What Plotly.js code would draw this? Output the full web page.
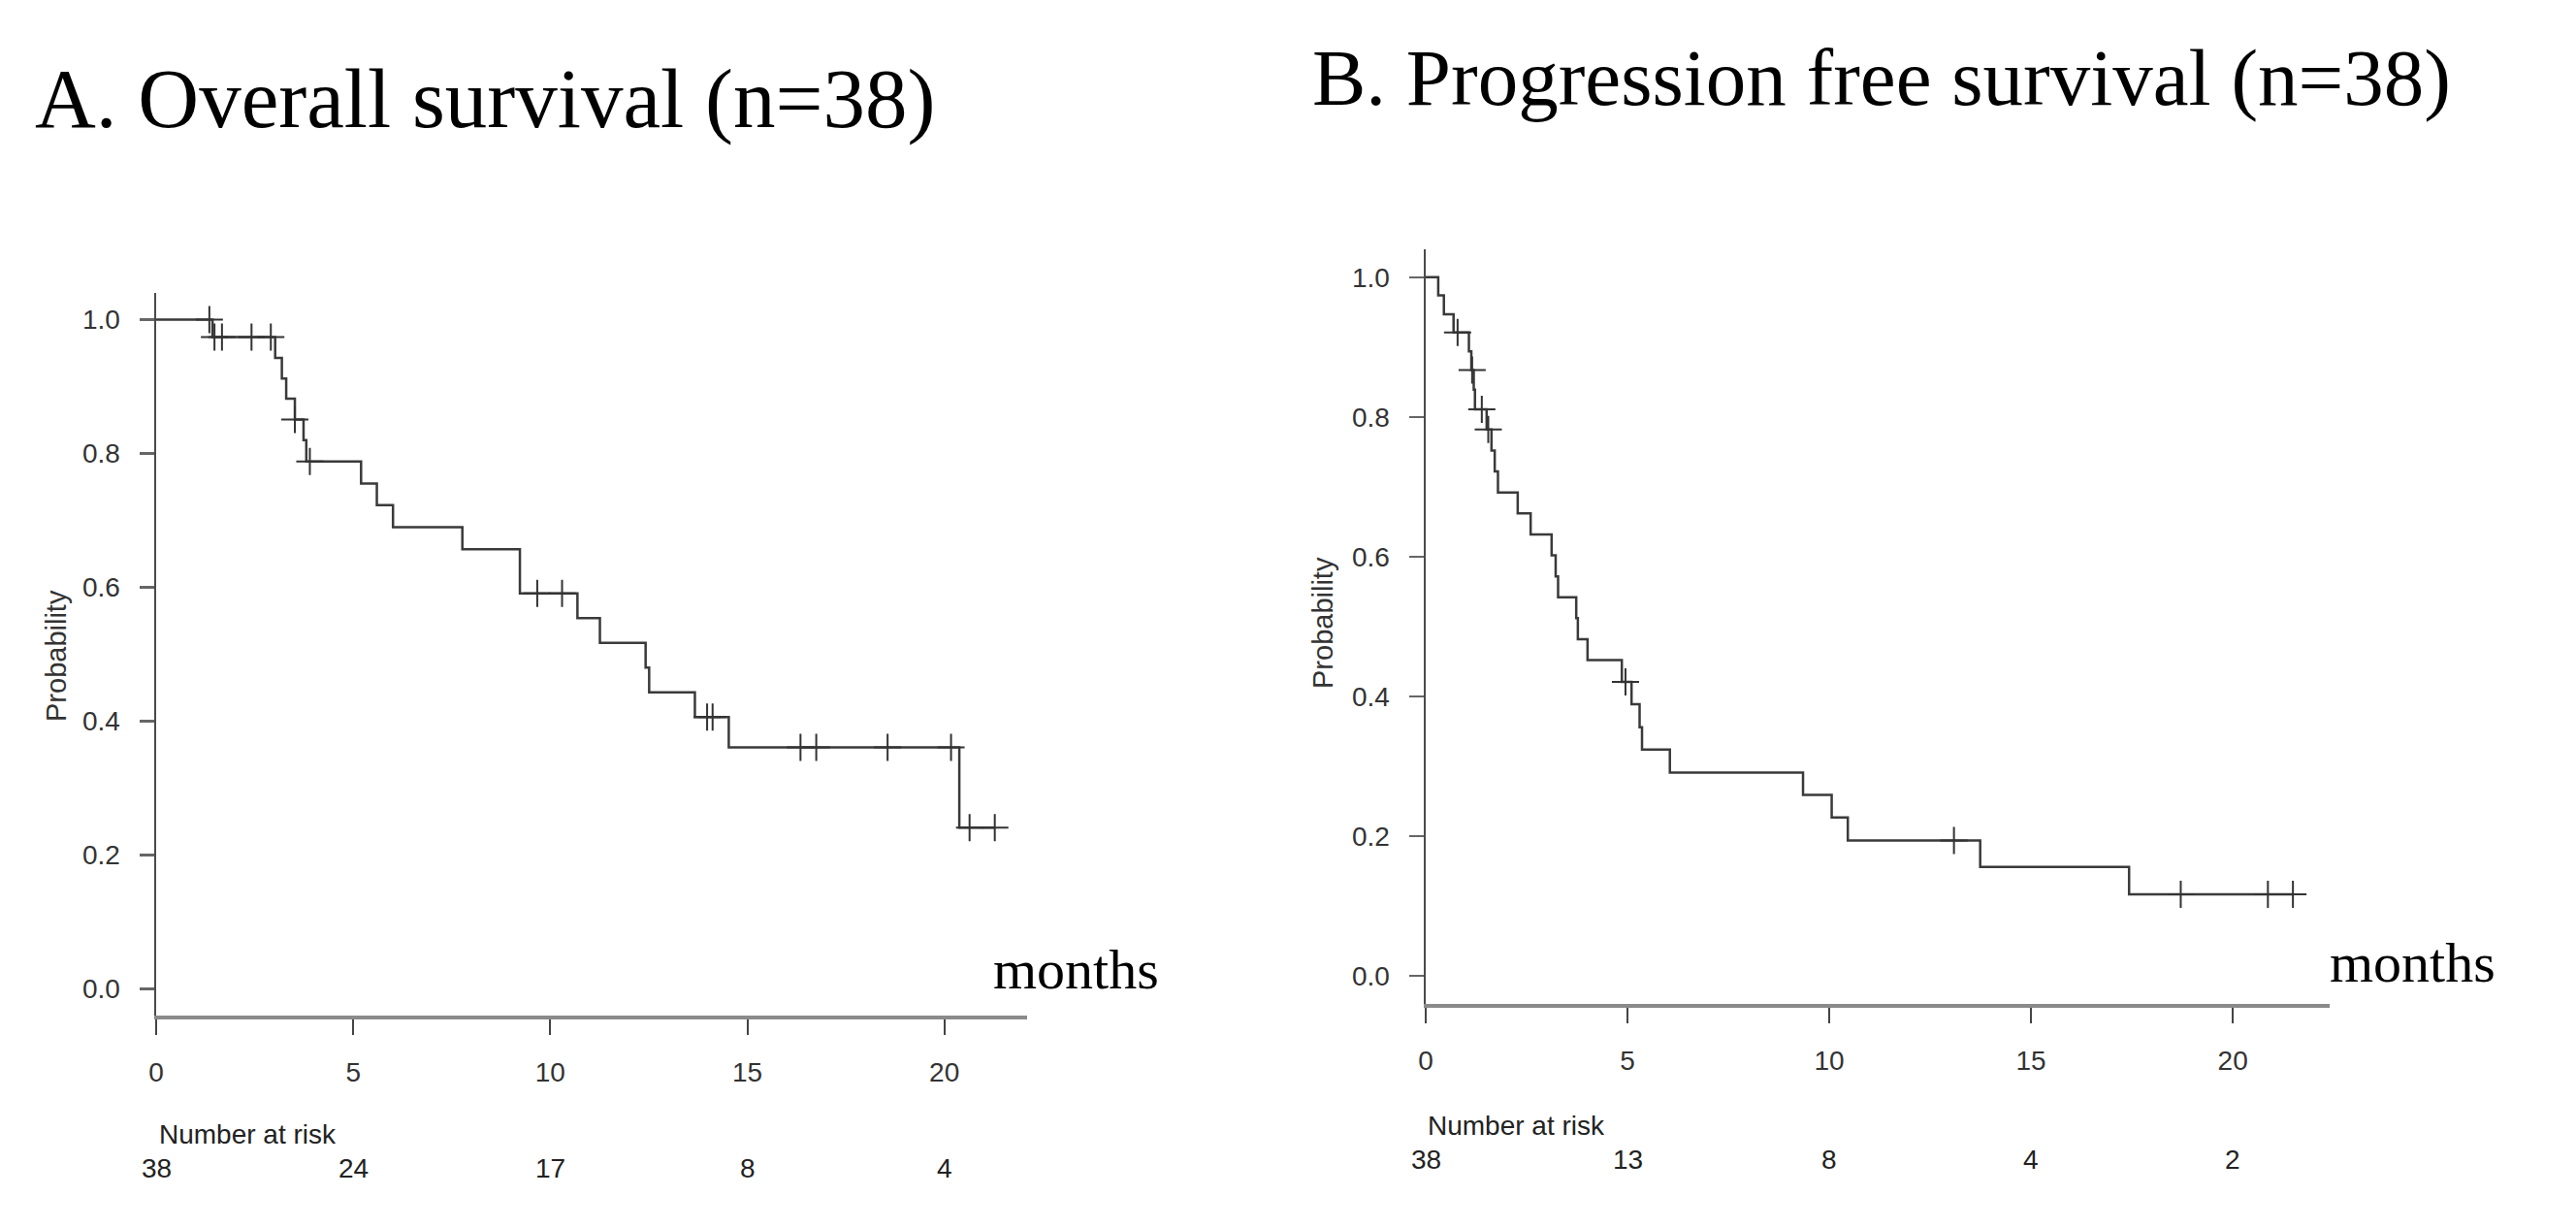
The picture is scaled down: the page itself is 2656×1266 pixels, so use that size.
<!DOCTYPE html>
<html>
<head>
<meta charset="utf-8">
<script src="https://cdn.plot.ly/plotly-3.0.1.min.js"></script>
<style>html,body{margin:0;padding:0;background:#fff;}#chart{width:2656px;height:1266px;}</style>
</head>
<body>
<div id="chart"></div>
<script>
// ---------- Data ----------
// Panel A: Overall survival (Kaplan-Meier step points: time in months, survival probability)
const osEventTime = [0, 1.43, 3.02, 3.19, 3.30, 3.52, 3.74, 3.81, 5.20, 5.60, 6.01, 7.77, 9.23, 10.69, 11.26, 12.42, 12.51, 13.67, 14.53, 20.38];
const osEventSurv = [1.0, 0.974, 0.943, 0.912, 0.882, 0.851, 0.820, 0.788, 0.755, 0.723, 0.690, 0.657, 0.591, 0.554, 0.517, 0.480, 0.443, 0.406, 0.361, 0.241];
const osCensorTime = [1.35, 1.48, 1.67, 2.42, 2.91, 3.52, 3.90, 9.67, 10.30, 13.98, 14.12, 16.35, 16.75, 18.56, 20.17, 20.64, 21.28];
const osRiskTime = [0, 5, 10, 15, 20];
const osRiskN = [38, 24, 17, 8, 4];

// Panel B: Progression free survival
const pfsEventTime = [0, 0.31, 0.45, 0.69, 1.07, 1.13, 1.19, 1.22, 1.51, 1.63, 1.71, 1.79, 2.28, 2.60, 3.12, 3.22, 3.28, 3.73, 3.77, 4.01, 4.86, 5.10, 5.30, 5.36, 6.05, 9.35, 10.06, 10.46, 13.74, 17.43];
const pfsEventSurv = [1.0, 0.974, 0.947, 0.921, 0.894, 0.867, 0.839, 0.811, 0.782, 0.752, 0.722, 0.692, 0.662, 0.632, 0.602, 0.572, 0.542, 0.512, 0.482, 0.452, 0.421, 0.389, 0.356, 0.324, 0.291, 0.259, 0.227, 0.194, 0.156, 0.117];
const pfsCensorTime = [0.79, 1.15, 1.39, 1.55, 4.95, 13.09, 18.71, 20.87, 21.49];
const pfsRiskTime = [0, 5, 10, 15, 20];
const pfsRiskN = [38, 13, 8, 4, 2];

const xTicks = [0, 5, 10, 15, 20];
const yTicks = [0, 0.2, 0.4, 0.6, 0.8, 1.0];
const yTickText = ["0.0", "0.2", "0.4", "0.6", "0.8", "1.0"];

const titleA = "A. Overall survival (n=38)";
const titleB = "B. Progression free survival (n=38)";
const xLabel = "months";
const yLabel = "Probability";
const riskLabel = "Number at risk";

// ---------- Helpers ----------
const W = 2656, H = 1266;
const px = v => v / W;
const py = v => 1 - v / H;

function survAt(times, surv, t) {
  let s = surv[0];
  for (let i = 0; i < times.length; i++) { if (times[i] <= t) s = surv[i]; }
  return s;
}
function stepTrace(times, surv, censors, xa, ya) {
  const end = Math.max(...censors, ...times);
  return {
    x: times.concat([end]), y: surv.concat([surv[surv.length - 1]]),
    xaxis: xa, yaxis: ya, type: 'scatter', mode: 'lines',
    line: {shape: 'hv', color: '#3a3a3a', width: 2.5},
    hoverinfo: 'skip', showlegend: false
  };
}
function censorTrace(times, surv, censors, xa, ya) {
  return {
    x: censors, y: censors.map(t => survAt(times, surv, t)),
    xaxis: xa, yaxis: ya, type: 'scatter', mode: 'markers',
    marker: {symbol: 'cross-thin', size: 20, line: {color: '#333', width: 2}},
    hoverinfo: 'skip', showlegend: false
  };
}

const sans = 'Liberation Sans, Arial, sans-serif';
const serif = 'Liberation Serif, Times New Roman, serif';

function xAxis(domain, range) {
  return {
    domain: domain, range: range,
    showline: true, linecolor: '#8a8a8a', linewidth: 4,
    ticks: 'outside', ticklen: 16, tickwidth: 2, tickcolor: '#444',
    tickvals: xTicks, ticktext: xTicks.map(String),
    ticklabelstandoff: 14,
    tickfont: {family: sans, size: 28, color: '#333'},
    showgrid: false, zeroline: false, fixedrange: true
  };
}
function yAxis(domain) {
  return {
    domain: domain, range: [-0.04, 1.04],
    showline: true, linecolor: '#4a4a4a', linewidth: 2.5,
    ticks: 'outside', ticklen: 15, tickwidth: 2.5, tickcolor: '#666',
    tickvals: yTicks, ticktext: yTickText,
    ticklabelstandoff: 14,
    tickfont: {family: sans, size: 28, color: '#333'},
    showgrid: false, zeroline: false, fixedrange: true
  };
}

const data = [
  stepTrace(osEventTime, osEventSurv, osCensorTime, 'x', 'y'),
  censorTrace(osEventTime, osEventSurv, osCensorTime, 'x', 'y'),
  stepTrace(pfsEventTime, pfsEventSurv, pfsCensorTime, 'x2', 'y2'),
  censorTrace(pfsEventTime, pfsEventSurv, pfsCensorTime, 'x2', 'y2')
];

const xa1 = xAxis([px(161), px(1059)], [0, 22.1]); xa1.anchor = 'y';
const ya1 = yAxis([py(1047), py(302)]); ya1.anchor = 'x';
const xa2 = xAxis([px(1470), px(2402)], [0, 22.4]); xa2.anchor = 'y2';
const ya2 = yAxis([py(1035), py(257)]); ya2.anchor = 'x2';

const annotations = [
  {text: titleA, xref: 'paper', yref: 'paper', x: px(34), y: py(101), xanchor: 'left', yanchor: 'middle',
   showarrow: false, font: {family: serif, size: 87, color: '#000'}},
  {text: titleB, xref: 'paper', yref: 'paper', x: px(1351), y: py(80), xanchor: 'left', yanchor: 'middle',
   showarrow: false, font: {family: serif, size: 83, color: '#000'}},
  {text: xLabel, xref: 'paper', yref: 'paper', x: px(1022), y: py(999), xanchor: 'left', yanchor: 'middle',
   showarrow: false, font: {family: serif, size: 58, color: '#000'}},
  {text: xLabel, xref: 'paper', yref: 'paper', x: px(2400), y: py(992), xanchor: 'left', yanchor: 'middle',
   showarrow: false, font: {family: serif, size: 58, color: '#000'}},
  {text: yLabel, xref: 'paper', yref: 'paper', x: px(58), y: py(676), xanchor: 'center', yanchor: 'middle', textangle: -90,
   showarrow: false, font: {family: sans, size: 29, color: '#333'}},
  {text: yLabel, xref: 'paper', yref: 'paper', x: px(1364), y: py(642), xanchor: 'center', yanchor: 'middle', textangle: -90,
   showarrow: false, font: {family: sans, size: 29, color: '#333'}},
  {text: riskLabel, xref: 'paper', yref: 'paper', x: px(162), y: py(1169), xanchor: 'left', yanchor: 'middle',
   showarrow: false, font: {family: sans, size: 28, color: '#222'}},
  {text: riskLabel, xref: 'paper', yref: 'paper', x: px(1470), y: py(1160), xanchor: 'left', yanchor: 'middle',
   showarrow: false, font: {family: sans, size: 28, color: '#222'}}
];
osRiskTime.forEach((t, i) => annotations.push({
  text: String(osRiskN[i]), xref: 'x', yref: 'paper', x: t, y: py(1204), xanchor: 'center', yanchor: 'middle',
  showarrow: false, font: {family: sans, size: 28, color: '#222'}
}));
pfsRiskTime.forEach((t, i) => annotations.push({
  text: String(pfsRiskN[i]), xref: 'x2', yref: 'paper', x: t, y: py(1195), xanchor: 'center', yanchor: 'middle',
  showarrow: false, font: {family: sans, size: 28, color: '#222'}
}));

const layout = {
  width: W, height: H, autosize: false,
  margin: {l: 0, r: 0, t: 0, b: 0, pad: 0},
  paper_bgcolor: '#fff', plot_bgcolor: '#fff',
  showlegend: false,
  xaxis: xa1, yaxis: ya1, xaxis2: xa2, yaxis2: ya2,
  annotations: annotations
};

Plotly.newPlot('chart', data, layout, {staticPlot: true, displayModeBar: false});
</script>
</body>
</html>
